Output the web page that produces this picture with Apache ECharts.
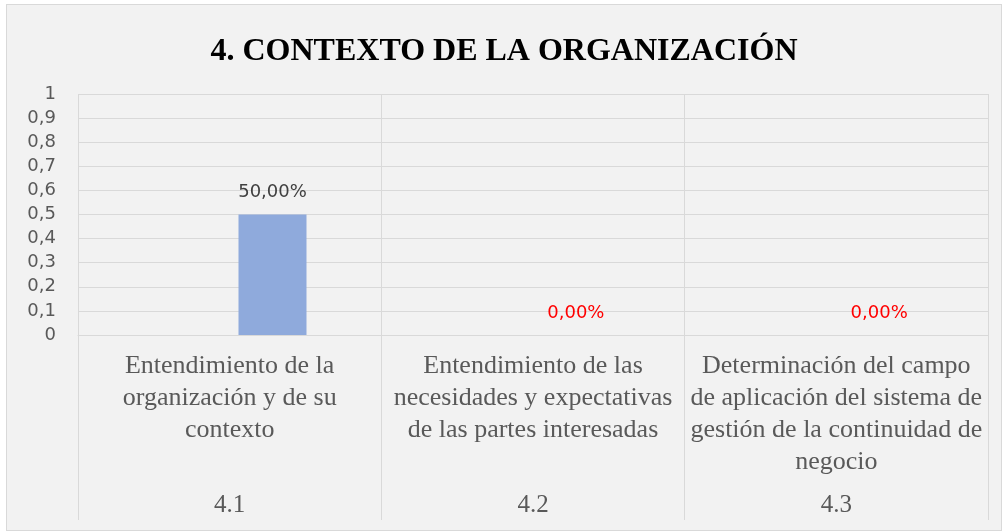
<!DOCTYPE html>
<html>
<head>
<meta charset="utf-8">
<script src="https://cdn.jsdelivr.net/npm/echarts@6/dist/echarts.min.js"></script>
<style>
body { margin: 0; background: #ffffff; }
#chartBar {
    position: absolute;
    left: 6px;
    top: 4px;
    width: 994px;
    height: 525px;
    border: 1px solid #d9d9d9;
}
</style>
</head>
<body>
<div id="chartBar"></div>
<script>
// categorías (texto tal cual aparece, con sus saltos de línea)
var titleText = '4. CONTEXTO DE LA ORGANIZACIÓN';
var categories = [
    'Entendimiento de la\norganización y de su\ncontexto',
    'Entendimiento de las\nnecesidades y expectativas\nde las partes interesadas',
    'Determinación del campo\nde aplicación del sistema de\ngestión de la continuidad de\nnegocio'
];
var codes = ['4.1', '4.2', '4.3'];
var cumplimiento = [0.5, 0, 0];
var yTicks = [0, 0.1, 0.2, 0.3, 0.4, 0.5, 0.6, 0.7, 0.8, 0.9, 1];

var myChart = echarts.init(document.getElementById('chartBar'));

var option = {
    backgroundColor: '#f2f2f2',
    animation: false,
    title: {
        text: titleText,
        left: 'center',
        top: 26,
        textStyle: {
            fontFamily: 'Liberation Serif',
            fontWeight: 'bold',
            fontSize: 32,
            color: '#000000'
        }
    },
    grid: {
        left: 71,
        right: 13,
        top: 89,
        bottom: 195
    },
    xAxis: [{
        type: 'category',
        data: categories,
        position: 'bottom',
        axisLine: {
            show: true,
            lineStyle: { color: '#d9d9d9', width: 1 }
        },
        axisTick: {
            show: true,
            interval: 0,
            length: 185,
            lineStyle: { color: '#d9d9d9' }
        },
        splitLine: {
            show: true,
            interval: 0,
            lineStyle: { color: '#d9d9d9' }
        },
        axisLabel: {
            interval: 0,
            margin: 15,
            fontFamily: 'Liberation Serif',
            fontSize: 26,
            lineHeight: 32,
            color: '#595959',
            align: 'center'
        }
    }, {
        type: 'category',
        data: codes,
        position: 'bottom',
        offset: 0,
        axisLine: { show: false },
        axisTick: { show: false },
        splitLine: { show: false },
        axisLabel: {
            interval: 0,
            margin: 158,
            fontFamily: 'Liberation Serif',
            fontSize: 25,
            lineHeight: 24,
            color: '#595959'
        }
    }],
    yAxis: [{
        type: 'value',
        min: yTicks[0],
        max: yTicks[yTicks.length - 1],
        interval: 0.1,
        axisLine: { show: false },
        axisTick: { show: false },
        splitLine: {
            show: true,
            lineStyle: { color: '#d9d9d9', width: 1 }
        },
        axisLabel: {
            margin: 22,
            fontFamily: 'DejaVu Sans',
            fontSize: 18,
            color: '#595959',
            formatter: function (v) {
                return String(Math.round(v * 10) / 10).replace('.', ',');
            }
        }
    }],
    series: [
        {
            // serie vacía que ocupa el primer hueco
            name: 'vacio',
            type: 'bar',
            xAxisIndex: 0,
            barWidth: 68,
            barGap: '26%',
            data: cumplimiento.map(function () { return null; })
        },
        {
            name: 'Cumplimiento',
            type: 'bar',
            xAxisIndex: 0,
            barWidth: 68,
            barGap: '26%',
            itemStyle: { color: '#8faadc' },
            label: {
                show: true,
                position: 'top',
                distance: 13,
                fontFamily: 'DejaVu Sans',
                fontSize: 18,
                formatter: function (p) {
                    return (p.value * 100).toFixed(2).replace('.', ',') + '%';
                }
            },
            data: cumplimiento.map(function (v) {
                return {
                    value: v,
                    label: { color: v === 0 ? '#ff0000' : '#404040' }
                };
            })
        }
    ]
};

myChart.setOption(option);
</script>
</body>
</html>
